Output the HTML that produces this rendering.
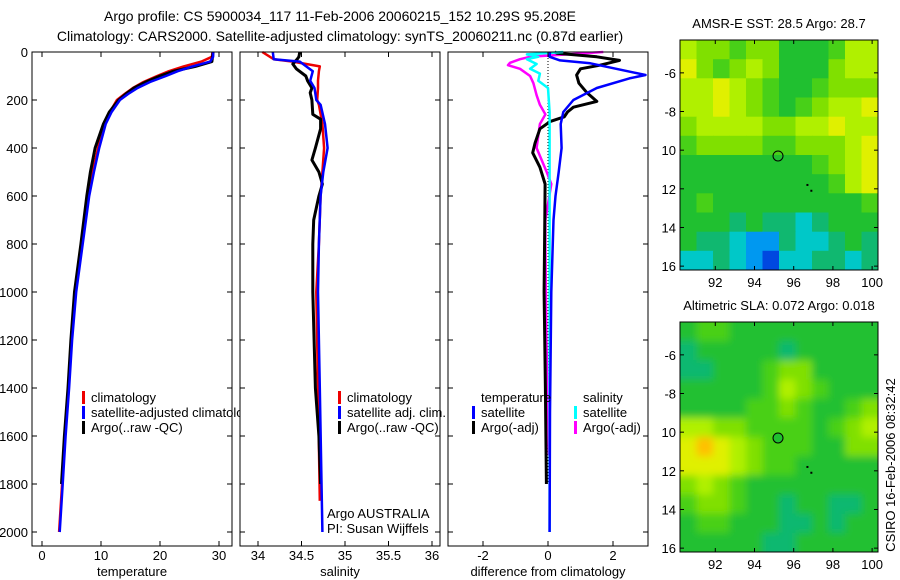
<!DOCTYPE html>
<html><head><meta charset="utf-8"><style>
html,body{margin:0;padding:0;background:#fff;}
svg{display:block;font-family:"Liberation Sans",sans-serif;}
text{font-size:13px;fill:#000;}
</style></head><body>
<svg id="fig" width="900" height="580" viewBox="0 0 900 580" xmlns="http://www.w3.org/2000/svg">
<defs>
<filter id="blur" x="-5%" y="-5%" width="110%" height="110%"><feGaussianBlur stdDeviation="4"/></filter>
<clipPath id="clipSla"><rect x="680" y="322" width="198" height="230"/></clipPath>
<clipPath id="clipSst"><rect x="680" y="40" width="198" height="230"/></clipPath>
</defs>
<rect width="900" height="580" fill="#fff"/>
<text x="340" y="21" text-anchor="middle" style="font-size:14px">Argo profile: CS 5900034_117 11-Feb-2006 20060215_152 10.29S 95.208E</text>
<text x="340" y="41" text-anchor="middle" style="font-size:14px">Climatology: CARS2000. Satellite-adjusted climatology: synTS_20060211.nc (0.87d earlier)</text>
<g id="g"></g>
</svg>
<script>
// ---- profile data ----
const tDepth = [0,20,40,60,80,100,125,150,175,200,250,300,400,500,600,800,1000,1200,1400,1600,1800,2000];
const tClim = [28.9,28.8,27,24,21.5,19.5,17.2,15.4,14,12.7,11.5,10.6,9.5,8.6,7.8,6.7,5.6,5.0,4.5,3.9,3.4,2.9];
const tSat  = [29,29,28.5,25.5,23,21,18.3,16.2,14.6,13.2,11.8,10.8,9.7,8.8,8,6.9,5.8,5.1,4.6,4.0,3.5,3.0];
const aDepth = [0,20,40,60,80,100,125,150,175,200,250,300,400,500,600,800,1000,1200,1400,1600,1800];
const tArgo = [29,28.9,28.8,26,22.3,20,17.6,15.6,14.2,13,11.4,10.4,9.0,8.2,7.6,6.6,5.5,4.9,4.4,3.8,3.3];
const sDepth = [0,30,40,60,80,120,150,200,220,300,400,500,600,800,1000,1400,1870];
const sClim = [34.05,34.18,34.4,34.71,34.7,34.69,34.69,34.68,34.7,34.74,34.76,34.74,34.72,34.7,34.67,34.69,34.71];
const sSatD = [0,30,40,80,120,150,200,220,300,400,500,600,800,1000,1400,2000];
const sSat  = [34.17,34.18,34.48,34.63,34.6,34.65,34.67,34.72,34.77,34.8,34.75,34.72,34.7,34.69,34.71,34.74];
const sArgoD = [0,20,30,50,70,100,120,150,170,200,260,280,320,400,450,500,550,600,700,800,1000,1400,1600,1800];
const sArgo = [34.48,34.47,34.45,34.4,34.44,34.55,34.57,34.62,34.6,34.62,34.63,34.72,34.72,34.66,34.62,34.7,34.74,34.7,34.64,34.63,34.63,34.66,34.7,34.72];
const dTSatD = [0,20,35,47,96,110,150,200,250,300,400,500,600,700,1000,1500,2000];
const dTSat  = [0.06,0.05,0.37,1.3,3.0,2.5,1.5,0.78,0.47,0.39,0.42,0.33,0.23,0.17,0.1,0.06,0.05];
const dTArgoD = [0,5,20,35,55,70,96,130,170,206,230,250,270,290,320,380,420,480,550,700,1000,1400,1800];
const dTArgo  = [0.2,0.27,1.5,2.2,1.6,1.0,0.88,0.95,1.2,1.5,0.78,0.6,0.5,0.06,-0.25,-0.4,-0.47,-0.25,-0.09,-0.1,-0.12,-0.08,-0.05];
const dSArgoD = [0,10,20,30,45,55,70,100,130,180,220,260,300,400,500,550,700,800,1200,1680];
const dSArgo  = [1.7,0.6,-0.55,-0.86,-1.17,-1.23,-0.86,-0.55,-0.45,-0.35,-0.25,-0.08,-0.25,-0.35,-0.04,0.1,-0.08,-0.08,-0.05,0.03];
const dSSatD = [0,10,20,30,50,70,90,120,150,250,500,1000,1500,2000];
const dSSat  = [0.47,-0.65,-0.3,-0.65,-0.35,-0.55,-0.25,-0.3,0.0,0.05,0.05,0.05,0.05,0.05];
const depthTicks = [0,200,400,600,800,1000,1200,1400,1600,1800,2000];
const tTicks = [0,10,20,30];
const sTicks = [34,34.5,35,35.5,36];
const dTicks = [-2,0,2];
// ---- map data (values 1..10 on colour scale) ----
const sstGrid = [
[8,7,7,6,7,7,5,5,5,6,8,8],[9,7,6,7,8,7,5,5,5,7,8,8],[8,8,9,8,7,6,5,5,6,7,7,7],
[8,8,9,8,7,6,5,6,7,8,8,9],[7,8,8,8,8,7,7,8,8,9,8,8],[6,7,7,7,7,6,6,7,7,7,8,9],
[5,5,5,5,5,5,5,5,6,7,8,9],[5,5,5,5,5,5,5,5,5,6,8,9],[5,6,5,5,5,5,5,5,5,5,5,6],
[5,5,5,4,5,4,4,3,4,5,5,5],[5,4,4,3,2,2,4,3,3,4,5,4],[3,3,4,3,2,1,3,3,4,4,3,4]];
const slaGrid = [
[5,6,6,5,5,5,5,5,5,5,5,5],[4,5,5,5,5,5,4,5,5,5,5,5],[4,4,5,5,5,6,7,7,5,5,5,5],
[5,5,5,5,5,6,8,7,6,5,5,5],[5,5,5,5,6,6,7,6,5,5,6,7],[8,8,7,7,6,6,6,6,5,6,7,8],
[9,10,9,8,7,6,6,6,5,5,7,7],[9,9,9,8,7,6,6,5,5,5,5,5],[7,8,7,6,5,5,5,5,5,5,5,5],
[6,7,7,6,5,5,4,5,5,4,4,5],[5,6,6,5,5,5,4,4,5,4,5,5],[5,5,5,5,5,4,4,5,5,5,5,5]];
const lonTicks = [92,94,96,98,100];
const latTicks = [-6,-8,-10,-12,-14,-16];
const latLabels = ["-6","-8","10","12","14","16"];
const floatPos = [95.2,-10.3];
const trackPts = [[96.7,-11.8],[96.9,-12.1]];

const NS="http://www.w3.org/2000/svg";
const G=document.getElementById('g');
function el(tag,attrs,parent){const e=document.createElementNS(NS,tag);for(const k in attrs)e.setAttribute(k,attrs[k]);(parent||G).appendChild(e);return e;}
const yD=d=>52+d*0.24;
const panels=[
 {x0:32,x1:232,sx:v=>42+v*5.9,ticks:tTicks,label:'temperature',name:'temperature-panel'},
 {x0:240,x1:440,sx:v=>258+(v-34)*87,ticks:sTicks,label:'salinity',name:'salinity-panel'},
 {x0:448,x1:648,sx:v=>548+v*32.5,ticks:dTicks,label:'difference from climatology',name:'difference-panel'}];
const PB=546;
function line(xs,ds,sx,color,name,w){
 const p=el('polyline',{points:xs.map((v,i)=>sx(v).toFixed(1)+','+yD(ds[i]).toFixed(1)).join(' '),fill:'none',stroke:color,'stroke-width':w||2.5,'stroke-linejoin':'round'});
 
 
}
function legend(x,y,color,txt,name){
 const r=el('rect',{x:x,y:y-11,width:3,height:13,fill:color});
 
 
 const t=el('text',{x:x+9,y:y});t.textContent=txt;
 
 
}
panels.forEach((P,pi)=>{
 const bg=el('rect',{x:P.x0,y:52,width:P.x1-P.x0,height:PB-52,fill:'#fff',stroke:'none'});
 
 
 if(pi===0){
  line(tClim,tDepth,P.sx,'#e00','temperature-climatology-line');
  line(tArgo,aDepth,P.sx,'#000','temperature-argo-line',3);
  line(tSat,tDepth,P.sx,'#00f','temperature-satellite-line');
  legend(82,402,'#e00','climatology','legend-climatology');
  legend(82,417,'#00f','satellite-adjusted climatology','legend-satellite-adjusted');
  legend(82,432,'#000','Argo(..raw -QC)','legend-argo');
 } else if(pi===1){
  line(sClim,sDepth,P.sx,'#e00','salinity-climatology-line');
  line(sArgo,sArgoD,P.sx,'#000','salinity-argo-line',3);
  line(sSat,sSatD,P.sx,'#00f','salinity-satellite-line');
  legend(338,402,'#e00','climatology','legend-sal-climatology');
  legend(338,417,'#00f','satellite adj. clim.','legend-sal-satellite');
  legend(338,432,'#000','Argo(..raw -QC)','legend-sal-argo');
  const a=el('text',{x:327,y:518});a.textContent='Argo AUSTRALIA';
  
  
  const b=el('text',{x:327,y:533});b.textContent='PI: Susan Wijffels';
  
  
 } else {
  const z=el('line',{x1:P.sx(0),x2:P.sx(0),y1:52,y2:yD(1800),stroke:'#000','stroke-width':1,'stroke-dasharray':'1,2'});
  
  
  line(dSArgo,dSArgoD,P.sx,'#f0f','salinity-argo-diff-line');
  line(dTArgo,dTArgoD,P.sx,'#000','temperature-argo-diff-line',3);
  line(dSSat,dSSatD,P.sx,'#0ff','salinity-satellite-diff-line');
  line(dTSat,dTSatD,P.sx,'#00f','temperature-satellite-diff-line');
  const t1=el('text',{x:481,y:402});t1.textContent='temperature';
  
  
  const t2=el('text',{x:583,y:402});t2.textContent='salinity';
  
  
  legend(472,417,'#00f','satellite','legend-temp-satellite');
  legend(472,432,'#000','Argo(-adj)','legend-temp-argo');
  legend(574,417,'#0ff','satellite','legend-sal-satellite-diff');
  legend(574,432,'#f0f','Argo(-adj)','legend-sal-argo-diff');
 }
 const fr=el('rect',{x:P.x0,y:52,width:P.x1-P.x0,height:PB-52,fill:'none',stroke:'#000','stroke-width':1});
 
 
 depthTicks.forEach(d=>{
  el('line',{x1:P.x0,x2:P.x0+5,y1:yD(d),y2:yD(d),stroke:'#000'});
  el('line',{x1:P.x1-5,x2:P.x1,y1:yD(d),y2:yD(d),stroke:'#000'});
  if(pi===0){const t=el('text',{x:28,y:yD(d)+5,'text-anchor':'end'});t.textContent=d;
   
   }
 });
 P.ticks.forEach(v=>{
  const x=P.sx(v);
  el('line',{x1:x,x2:x,y1:52,y2:57,stroke:'#000'});
  el('line',{x1:x,x2:x,y1:PB-5,y2:PB,stroke:'#000'});
  const t=el('text',{x:x,y:560,'text-anchor':'middle'});t.textContent=v;
  
  
 });
 const xl=el('text',{x:(P.x0+P.x1)/2,y:576,'text-anchor':'middle'});xl.textContent=P.label;
 
 
});
// ---- maps ----
const pal=['#0030d0','#0048e0','#0098f0','#00c8c8','#10b870','#20c030','#48d018','#80e000','#b0f000','#e0f000','#ffc000'];
function drawMap(grid,top,title,name,filledCircle,smooth,clipId){
 const x0=680,x1=878,h=230,bottom=top+h;
 const lonMin=90.2,lonMax=100.3,latTop=-4.3,latBot=-16.2;
 const mx=v=>x0+(v-lonMin)/(lonMax-lonMin)*(x1-x0);
 const my=v=>top+(latTop-v)/(latTop-latBot)*h;
 const nr=grid.length,nc=grid[0].length;
 const dl=(lonMax-lonMin)/nc,dt=(latTop-latBot)/nr;
 const outer=el('g',{'clip-path':'url(#'+clipId+')'});
 
 
 const cg=el('g',smooth?{filter:'url(#blur)'}:{},outer);
 grid.forEach((row,r)=>row.forEach((v,c)=>{
  const lo=lonMin+c*dl,la=latTop-r*dt;
  let xa=mx(lo),xb=mx(lo+dl)+0.6,ya=my(la),yb=my(la-dt)+0.6;
  if(smooth){if(c===0)xa-=12;if(c===nc-1)xb+=12;if(r===0)ya-=12;if(r===nr-1)yb+=12;}
  const cell=el('rect',{x:xa.toFixed(1),y:ya.toFixed(1),width:(xb-xa).toFixed(1),height:(yb-ya).toFixed(1),fill:pal[v]},cg);
  
  
 }));
 const fr=el('rect',{x:x0,y:top,width:x1-x0,height:h,fill:'none',stroke:'#000'});
 
 
 const c=el('circle',{cx:mx(floatPos[0]),cy:my(floatPos[1]),r:5,fill:filledCircle?'#20c030':'none',stroke:'#000'});
 
 
 trackPts.forEach(p=>{const d=el('rect',{x:mx(p[0])-1,y:my(p[1])-1,width:2,height:2,fill:'#000'});
  
  });
 lonTicks.forEach(v=>{
  el('line',{x1:mx(v),x2:mx(v),y1:top,y2:top+4,stroke:'#000'});
  el('line',{x1:mx(v),x2:mx(v),y1:bottom-4,y2:bottom,stroke:'#000'});
  const t=el('text',{x:mx(v),y:bottom+17,'text-anchor':'middle'});t.textContent=v;
  
  
 });
 latTicks.forEach((v,i)=>{
  el('line',{x1:x0,x2:x0+4,y1:my(v),y2:my(v),stroke:'#000'});
  el('line',{x1:x1-4,x2:x1,y1:my(v),y2:my(v),stroke:'#000'});
  const t=el('text',{x:676,y:my(v)+5,'text-anchor':'end'});t.textContent=latLabels[i];
  
  
 });
 const tt=el('text',{x:(x0+x1)/2,y:top-12,'text-anchor':'middle'});tt.textContent=title;
 
 
}
drawMap(sstGrid,40,'AMSR-E SST: 28.5 Argo: 28.7','sst-map',false,false,'clipSst');
drawMap(slaGrid,322,'Altimetric SLA: 0.072 Argo: 0.018','sla-map',true,true,'clipSla');
const cs=el('text',{x:0,y:0,'text-anchor':'middle',transform:'translate(895,465) rotate(-90)'});
cs.textContent='CSIRO 16-Feb-2006 08:32:42';


</script>
</body></html>
